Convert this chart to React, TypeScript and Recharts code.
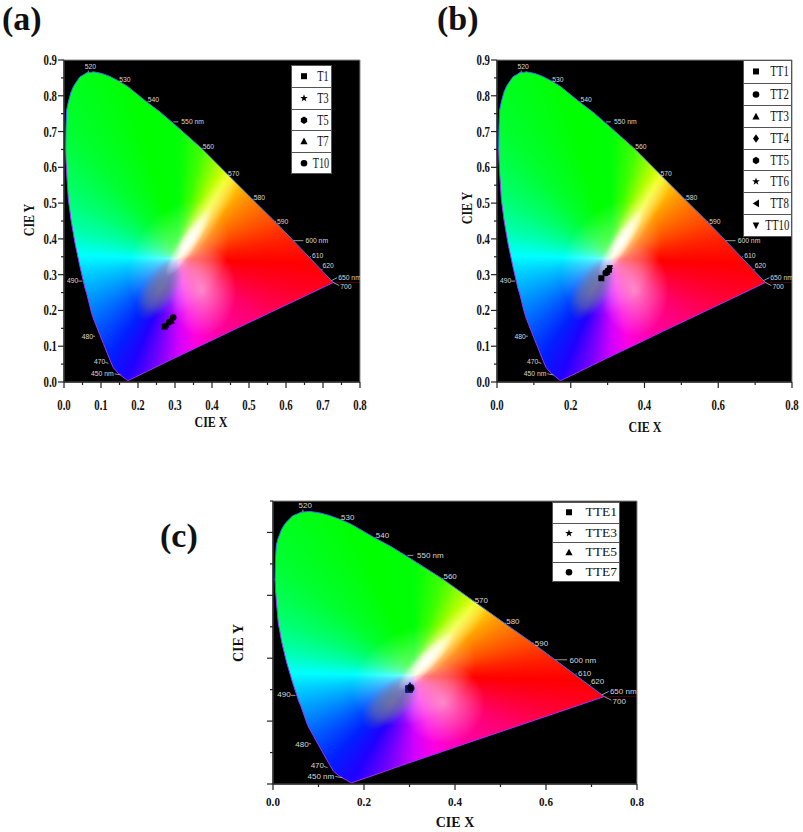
import React from "react"
import { Area, ComposedChart, Label, Legend, Line, ReferenceArea, Scatter, XAxis, YAxis } from "recharts"

// spectral locus: upper and lower edge for each x
const locusX = [0.0045, 0.0054, 0.0072, 0.0117, 0.0144, 0.0189, 0.0252, 0.0297, 0.0432, 0.0568, 0.0613, 0.0748, 0.0793, 0.0973, 0.1063, 0.1243, 0.1333, 0.1468, 0.1694, 0.1721, 0.1784, 0.2234, 0.2595, 0.2955, 0.372, 0.4486, 0.516, 0.575, 0.62, 0.7279]
const locusHi = [0.65, 0.7135, 0.76, 0.783, 0.793, 0.81, 0.825, 0.833, 0.853, 0.861, 0.8645, 0.866, 0.867, 0.8635, 0.861, 0.854, 0.849, 0.842, 0.828, 0.826, 0.8208, 0.783, 0.755, 0.723, 0.653, 0.574, 0.504, 0.4435, 0.395, 0.278]
const locusLo = [0.65, 0.62, 0.583, 0.509, 0.49, 0.4527, 0.415, 0.3876, 0.322, 0.262, 0.2475, 0.192, 0.178, 0.131, 0.108, 0.0615, 0.04, 0.0243, 0.006, 0.0036, 0.0067, 0.029, 0.0475, 0.0655, 0.103, 0.141, 0.174, 0.203, 0.225, 0.278]

const waveNames = ["520", "530", "540", "550 nm", "560", "570", "580", "590", "600 nm", "610", "620", "650 nm", "700", "490", "480", "470", "450 nm"]
const waveX = [0.0657, 0.1495, 0.2234, 0.2955, 0.372, 0.4432, 0.5099, 0.57, 0.62, 0.665, 0.696, 0.722, 0.7279, 0.0495, 0.0838, 0.12, 0.153]
const waveY = [0.865, 0.84, 0.783, 0.727, 0.653, 0.578, 0.511, 0.448, 0.395, 0.35, 0.313, 0.283, 0.278, 0.282, 0.128, 0.052, 0.02]

const whitePoint = [{ x: 0.309, y: 0.345 }]

const seriesA = ["T1", "T3", "T5", "T7", "T10"]
const seriesAX = [0.272, 0.278, 0.285, 0.29, 0.295]
const seriesAY = [0.155, 0.16, 0.168, 0.172, 0.18]

const seriesB = ["TT1", "TT2", "TT3", "TT4", "TT5", "TT6", "TT8", "TT10"]
const seriesBX = [0.283, 0.295, 0.298, 0.3, 0.302, 0.305, 0.303, 0.306]
const seriesBY = [0.29, 0.305, 0.308, 0.31, 0.312, 0.315, 0.316, 0.318]

const seriesC = ["TTE1", "TTE3", "TTE5", "TTE7"]
const seriesCX = [0.299, 0.3, 0.301, 0.302]
const seriesCY = [0.302, 0.305, 0.31, 0.305]

const ticksTenth = [0, 0.05, 0.1, 0.15, 0.2, 0.25, 0.3, 0.35, 0.4, 0.45, 0.5, 0.55, 0.6, 0.65, 0.7, 0.75, 0.8]
const ticksTenthY = [0, 0.05, 0.1, 0.15, 0.2, 0.25, 0.3, 0.35, 0.4, 0.45, 0.5, 0.55, 0.6, 0.65, 0.7, 0.75, 0.8, 0.85, 0.9]
const ticksFifth = [0, 0.1, 0.2, 0.3, 0.4, 0.5, 0.6, 0.7, 0.8]
const ticksFifthY = [0, 0.1, 0.2, 0.3, 0.4, 0.5, 0.6, 0.7, 0.8, 0.9]

const markersA = ["square", "star", "hexagon", "triangle", "circle"]
const markersB = ["square", "circle", "triangle", "diamond", "hexagon", "star", "left", "down"]
const markersC = ["square", "star", "triangle", "circle"]

// label placement around the locus: tick end dx, dy, text dx, dy, anchor
const waveOffsets: [number, number, number, number, string][] = [
  [0, -2, 2, -6, "middle"], [1, -1, 0, -2, "start"], [1, 0, 1, -2, "start"], [5, 0, 8, 0, "start"],
  [1, 0, 1, -2, "start"], [1, 0, 0, -2, "start"], [1, 0, 1, -2, "start"], [1, 0, 2, 0, "start"],
  [10, 0, 12, 0, "start"], [1, 0, 2, -1, "start"], [1, -1, 1, -4, "start"], [6, -3, 7, -3, "start"],
  [6, 3, 7, 4, "start"], [-4, 0, -4, -1, "end"], [-2, 0, -2, 0, "end"], [-3, -1, -3, -2, "end"],
  [-6, -1, -7, -1, "end"],
]

const maskRows = [
  { x: 0, top: [0.65, 0.9], bottom: [0, 0.65] },
  ...locusX.map((x, i) => ({
    x,
    top: [locusHi[i], 0.9],
    bottom: [0, locusLo[i]],
    edgeHi: locusHi[i],
    edgeLo: locusLo[i],
  })),
  { x: 0.8, top: [0.278, 0.9], bottom: [0, 0.278] },
]

const waveRows = waveNames.map((name, i) => ({ x: waveX[i], y: waveY[i], name, offset: waveOffsets[i] }))

const hues = [
  "#00ff08 0deg", "#40ff00 12deg", "#a0ff00 22deg", "#f0ff00 31deg", "#ffd000 37deg", "#ffa000 45deg",
  "#ff7800 55deg", "#ff4c00 68deg", "#ff2000 80deg", "#ff0000 92deg", "#ff0030 107deg", "#ff0070 127deg",
  "#ff00a0 150deg", "#ff00e0 168deg", "#d000ff 180deg", "#7000ff 192deg", "#2000ff 203deg", "#0020ff 215deg",
  "#0080ff 240deg", "#00d0ff 262deg", "#00ffff 272deg", "#00ffb0 285deg", "#00ff70 300deg", "#00ff30 320deg",
  "#00ff00 345deg", "#00ff08 360deg",
].join(",")

const serif = "'Liberation Serif', serif"
const sans = "'Liberation Sans', sans-serif"

function markerPath(kind: string, r: number) {
  if (kind === "square") return `M${-r},${-r}H${r}V${r}H${-r}Z`
  if (kind === "triangle") return `M0,${-r * 1.2}L${r * 1.2},${r}H${-r * 1.2}Z`
  if (kind === "down") return `M0,${r * 1.3}L${r * 1.1},${-r}H${-r * 1.1}Z`
  if (kind === "left") return `M${-r * 1.1},0L${r},${-r * 1.3}V${r * 1.3}Z`
  if (kind === "diamond") return `M0,${-r * 1.4}L${r},0L0,${r * 1.4}L${-r},0Z`
  if (kind === "hexagon") return `M0,${-r * 1.25}L${r * 1.05},${-r * 0.6}V${r * 0.6}L0,${r * 1.25}L${-r * 1.05},${r * 0.6}V${-r * 0.6}Z`
  if (kind === "star") {
    const q = r * 1.35
    const s = q * 0.4
    let d = ""
    for (let i = 0; i < 10; i++) {
      const a = (Math.PI / 5) * i - Math.PI / 2
      const l = i % 2 ? s : q
      d += `${i ? "L" : "M"}${(l * Math.cos(a)).toFixed(2)},${(l * Math.sin(a)).toFixed(2)}`
    }
    return d + "Z"
  }
  return `M${-r * 1.1},0A${r * 1.1},${r * 1.1} 0 1 0 ${r * 1.1},0A${r * 1.1},${r * 1.1} 0 1 0 ${-r * 1.1},0Z`
}

function ColorField({ cx, cy, p, id }: any) {
  const sx = p.w / 0.8 / 370
  const sy = p.h / 0.9 / 358
  return (
    <g>
      <foreignObject x={p.left} y={p.top} width={p.w} height={p.h}>
        <div style={{ position: "relative", width: p.w, height: p.h, overflow: "hidden", background: "#000" }}>
          <div
            style={{
              position: "absolute",
              left: cx - p.left - 700,
              top: cy - p.top - 700,
              width: 1400,
              height: 1400,
              transform: `scale(${sx},${sy})`,
              background: `conic-gradient(from 0deg, ${hues})`,
            }}
          />
        </div>
      </foreignObject>
      <defs>
        <radialGradient id={`${id}-white`}>
          <stop offset="0%" stopColor="#fff" stopOpacity={1} />
          <stop offset="45%" stopColor="#fff" stopOpacity={0.7} />
          <stop offset="100%" stopColor="#fff" stopOpacity={0} />
        </radialGradient>
        <radialGradient id={`${id}-soft`}>
          <stop offset="0%" stopColor="#fff" stopOpacity={0.5} />
          <stop offset="100%" stopColor="#fff" stopOpacity={0} />
        </radialGradient>
        <radialGradient id={`${id}-grey`}>
          <stop offset="0%" stopColor="#808080" stopOpacity={0.75} />
          <stop offset="55%" stopColor="#808080" stopOpacity={0.45} />
          <stop offset="100%" stopColor="#808080" stopOpacity={0} />
        </radialGradient>
      </defs>
      <g transform={`translate(${cx},${cy}) scale(${sx},${sy})`}>
        <ellipse cx={0} cy={0} rx={45} ry={62} fill={`url(#${id}-soft)`} transform="rotate(33)" />
        <ellipse cx={25} cy={-38} rx={14} ry={80} fill={`url(#${id}-soft)`} transform="rotate(33 25 -38)" />
        <ellipse cx={24} cy={32} rx={34} ry={46} fill={`url(#${id}-soft)`} />
        <ellipse cx={-18} cy={30} rx={17} ry={36} fill={`url(#${id}-grey)`} transform="rotate(33 -18 30)" />
        <ellipse cx={10} cy={-16} rx={9} ry={40} fill={`url(#${id}-white)`} transform="rotate(33 10 -16)" />
      </g>
    </g>
  )
}

function WaveMark({ cx, cy, payload, fontSize, k }: any) {
  const [tx, ty, dx, dy, anchor] = payload.offset
  return (
    <g>
      <line x1={cx} y1={cy} x2={cx + tx * k} y2={cy + ty * k} stroke="#999" strokeWidth={1} />
      <text x={cx + dx * k} y={cy + dy * k + fontSize * 0.36} textAnchor={anchor} fontSize={fontSize} fontFamily={sans} fill="#d8d8d8">
        {payload.name}
      </text>
    </g>
  )
}

function AxisTick({ x, y, payload, orient, labelled, squish, fontSize, major, dy }: any) {
  const v = payload.value
  const isMajor = major.some((m: number) => Math.abs(m - v) < 1e-6)
  const show = labelled.some((m: number) => Math.abs(m - v) < 1e-6)
  const len = isMajor ? 6 : 3
  if (orient === "x") {
    return (
      <g>
        <line x1={x} y1={y} x2={x} y2={y + len} stroke="#222" strokeWidth={1.2} />
        {show && (
          <text transform={`translate(${x},${y + dy}) scale(${squish},1)`} textAnchor="middle" fontSize={fontSize} fontWeight="bold" fontFamily={serif} fill="#111">
            {v.toFixed(1)}
          </text>
        )}
      </g>
    )
  }
  return (
    <g>
      <line x1={x} y1={y} x2={x - len} y2={y} stroke="#222" strokeWidth={1.2} />
      {show && (
        <text transform={`translate(${x - 7},${y + 5}) scale(${squish},1)`} textAnchor="end" fontSize={fontSize} fontWeight="bold" fontFamily={serif} fill="#111">
          {v.toFixed(1)}
        </text>
      )}
    </g>
  )
}

function Title({ x, y, text, rotate, squish, fontSize }: any) {
  return (
    <text
      transform={`translate(${x},${y}) ${rotate ? "rotate(-90) " : ""}scale(${squish},1)`}
      textAnchor="middle"
      fontSize={fontSize}
      fontWeight="bold"
      fontFamily={serif}
      fill="#111"
    >
      {text}
    </text>
  )
}

function LegendBox({ names, markers, rowH, markerX, squish, fontSize, width }: any) {
  return (
    <div style={{ width, background: "#fff", border: "1px solid #555", boxSizing: "border-box" }}>
      {names.map((name: string, i: number) => (
        <div
          key={name}
          style={{
            position: "relative",
            height: rowH,
            boxSizing: "border-box",
            borderTop: i ? "1px solid #555" : "none",
          }}
        >
          <svg width={20} height={rowH} style={{ position: "absolute", left: markerX - 10, top: 0 }}>
            <path d={markerPath(markers[i], 3)} transform={`translate(10,${rowH / 2 - 0.5})`} fill="#000" />
          </svg>
          <span
            style={{
              position: "absolute",
              right: 2,
              top: 0,
              lineHeight: `${rowH - 1}px`,
              fontFamily: serif,
              fontSize,
              color: "#111",
              transform: `scaleX(${squish})`,
              transformOrigin: "right center",
            }}
          >
            {name}
          </span>
        </div>
      ))}
    </div>
  )
}

const axisW = 40
const axisH = 30

function Panel({ id, p, names, xs, ys, markers, xTicks, yTicks, xMajor, yMajor, yLabelled, xTitle, yTitle, legend, text }: any) {
  const plot = { left: p.left, top: p.top, w: p.w, h: p.h }
  return (
    <div style={{ position: "absolute", left: p.x, top: p.y }}>
      <ComposedChart
        width={p.width}
        height={p.height}
        data={maskRows}
        margin={{ left: p.left - axisW, top: p.top, right: p.width - p.left - p.w, bottom: p.height - p.top - p.h - axisH }}
      >
        <XAxis
          dataKey="x"
          type="number"
          domain={[0, 0.8]}
          ticks={xTicks}
          interval={0}
          height={axisH}
          stroke="#222"
          strokeWidth={1.4}
          tickLine={false}
          tickSize={0}
          tickMargin={0}
          tick={<AxisTick orient="x" labelled={xMajor} major={xMajor} squish={text.squish} fontSize={text.tick} dy={text.tickDy} />}
        >
          <Label content={() => <Title x={xTitle[0]} y={xTitle[1]} text="CIE X" squish={text.titleSquish} fontSize={text.title} />} />
        </XAxis>
        <YAxis
          type="number"
          domain={[0, 0.9]}
          ticks={yTicks}
          interval={0}
          width={axisW}
          stroke="#222"
          strokeWidth={1.4}
          tickLine={false}
          tickSize={0}
          tickMargin={0}
          tick={<AxisTick orient="y" labelled={yLabelled} major={yMajor} squish={text.squish} fontSize={text.tick} />}
        >
          <Label content={() => <Title x={yTitle[0]} y={yTitle[1]} rotate text="CIE Y" squish={text.titleSquish} fontSize={text.title} />} />
        </YAxis>
        <Scatter
          data={whitePoint}
          dataKey="y"
          legendType="none"
          isAnimationActive={false}
          zIndex={50}
          shape={(s: any) => <ColorField cx={s.cx} cy={s.cy} p={plot} id={id} />}
        />
        <Area dataKey="top" stroke="none" fill="#000" fillOpacity={1} legendType="none" isAnimationActive={false} zIndex={100} />
        <Area dataKey="bottom" stroke="none" fill="#000" fillOpacity={1} legendType="none" isAnimationActive={false} zIndex={100} />
        <Line dataKey="edgeHi" stroke="#3a6cff" strokeWidth={1} dot={false} legendType="none" isAnimationActive={false} />
        <Line dataKey="edgeLo" stroke="#a030ff" strokeWidth={1} dot={false} legendType="none" isAnimationActive={false} />
        <ReferenceArea x1={0} x2={0.8} y1={0} y2={0.9} fill="none" stroke="#888" strokeWidth={1} ifOverflow="visible" />
        <Scatter
          data={waveRows}
          dataKey="y"
          legendType="none"
          isAnimationActive={false}
          shape={(s: any) => <WaveMark cx={s.cx} cy={s.cy} payload={s.payload} fontSize={text.wave} k={text.waveK} />}
        />
        {names.map((name: string, i: number) => (
          <Scatter
            key={name}
            name={name}
            data={[{ x: xs[i], y: ys[i] }]}
            dataKey="y"
            isAnimationActive={false}
            shape={(s: any) => (
              <path d={markerPath(markers[i], text.marker)} transform={`translate(${s.cx},${s.cy})`} fill="#000" stroke={text.fringe} strokeWidth={text.fringe === "none" ? 0 : 1} />
            )}
          />
        ))}
        <Legend
          layout="horizontal"
          verticalAlign="middle"
          align="center"
          wrapperStyle={{ position: "absolute", left: legend.left, top: legend.top, width: legend.width, bottom: "auto", right: "auto" }}
          content={() => (
            <LegendBox
              names={names}
              markers={markers}
              rowH={legend.rowH}
              markerX={legend.markerX}
              squish={legend.squish}
              fontSize={legend.fontSize}
              width={legend.width}
            />
          )}
        />
      </ComposedChart>
    </div>
  )
}

function Letter({ x, y, children }: any) {
  return (
    <div style={{ position: "absolute", left: x, top: y, fontFamily: serif, fontWeight: "bold", fontSize: 34, lineHeight: "38px", color: "#111" }}>
      {children}
    </div>
  )
}

export default function App() {
  return (
    <div style={{ position: "absolute", left: 0, top: 0, width: 803, height: 832, overflow: "hidden", background: "#fff" }}>
      <Letter x={2} y={0}>(a)</Letter>
      <Letter x={437} y={0}>(b)</Letter>
      <Letter x={160} y={517}>(c)</Letter>
      <Panel
        id="a"
        p={{ x: 0, y: 0, width: 400, height: 440, left: 64, top: 60, w: 296, h: 322 }}
        names={seriesA}
        xs={seriesAX}
        ys={seriesAY}
        markers={markersA}
        xTicks={ticksTenth}
        yTicks={ticksTenthY}
        xMajor={ticksFifth}
        yMajor={ticksFifthY}
        yLabelled={ticksFifthY}
        xTitle={[211, 427]}
        yTitle={[34, 220]}
        legend={{ left: 291, top: 65, width: 41, rowH: 21.4, markerX: 12, squish: 0.68, fontSize: 15 }}
        text={{ tick: 15, squish: 0.72, tickDy: 28, title: 15, titleSquish: 0.8, wave: 6.8, waveK: 1, marker: 3, fringe: "none" }}
      />
      <Panel
        id="b"
        p={{ x: 420, y: 0, width: 383, height: 440, left: 77, top: 60, w: 295, h: 322 }}
        names={seriesB}
        xs={seriesBX}
        ys={seriesBY}
        markers={markersB}
        xTicks={ticksFifth}
        yTicks={ticksTenthY}
        xMajor={[0, 0.2, 0.4, 0.6, 0.8]}
        yMajor={ticksFifthY}
        yLabelled={ticksFifthY}
        xTitle={[225, 432]}
        yTitle={[52, 208]}
        legend={{ left: 323, top: 60, width: 49, rowH: 21.9, markerX: 12, squish: 0.72, fontSize: 15 }}
        text={{ tick: 15, squish: 0.72, tickDy: 28, title: 15, titleSquish: 0.8, wave: 6.8, waveK: 1, marker: 3, fringe: "none" }}
      />
      <Panel
        id="c"
        p={{ x: 200, y: 490, width: 480, height: 342, left: 73, top: 11, w: 364, h: 283 }}
        names={seriesC}
        xs={seriesCX}
        ys={seriesCY}
        markers={markersC}
        xTicks={ticksFifth}
        yTicks={ticksFifthY}
        xMajor={[0, 0.2, 0.4, 0.6, 0.8]}
        yMajor={[0, 0.2, 0.4, 0.6, 0.8]}
        yLabelled={[]}
        xTitle={[255, 337]}
        yTitle={[43, 153]}
        legend={{ left: 352, top: 12, width: 68, rowH: 19.5, markerX: 16, squish: 1, fontSize: 13.5 }}
        text={{ tick: 13, squish: 0.85, tickDy: 22, title: 14, titleSquish: 1, wave: 8, waveK: 1.2, marker: 3.4, fringe: "#1018a0" }}
      />
    </div>
  )
}
